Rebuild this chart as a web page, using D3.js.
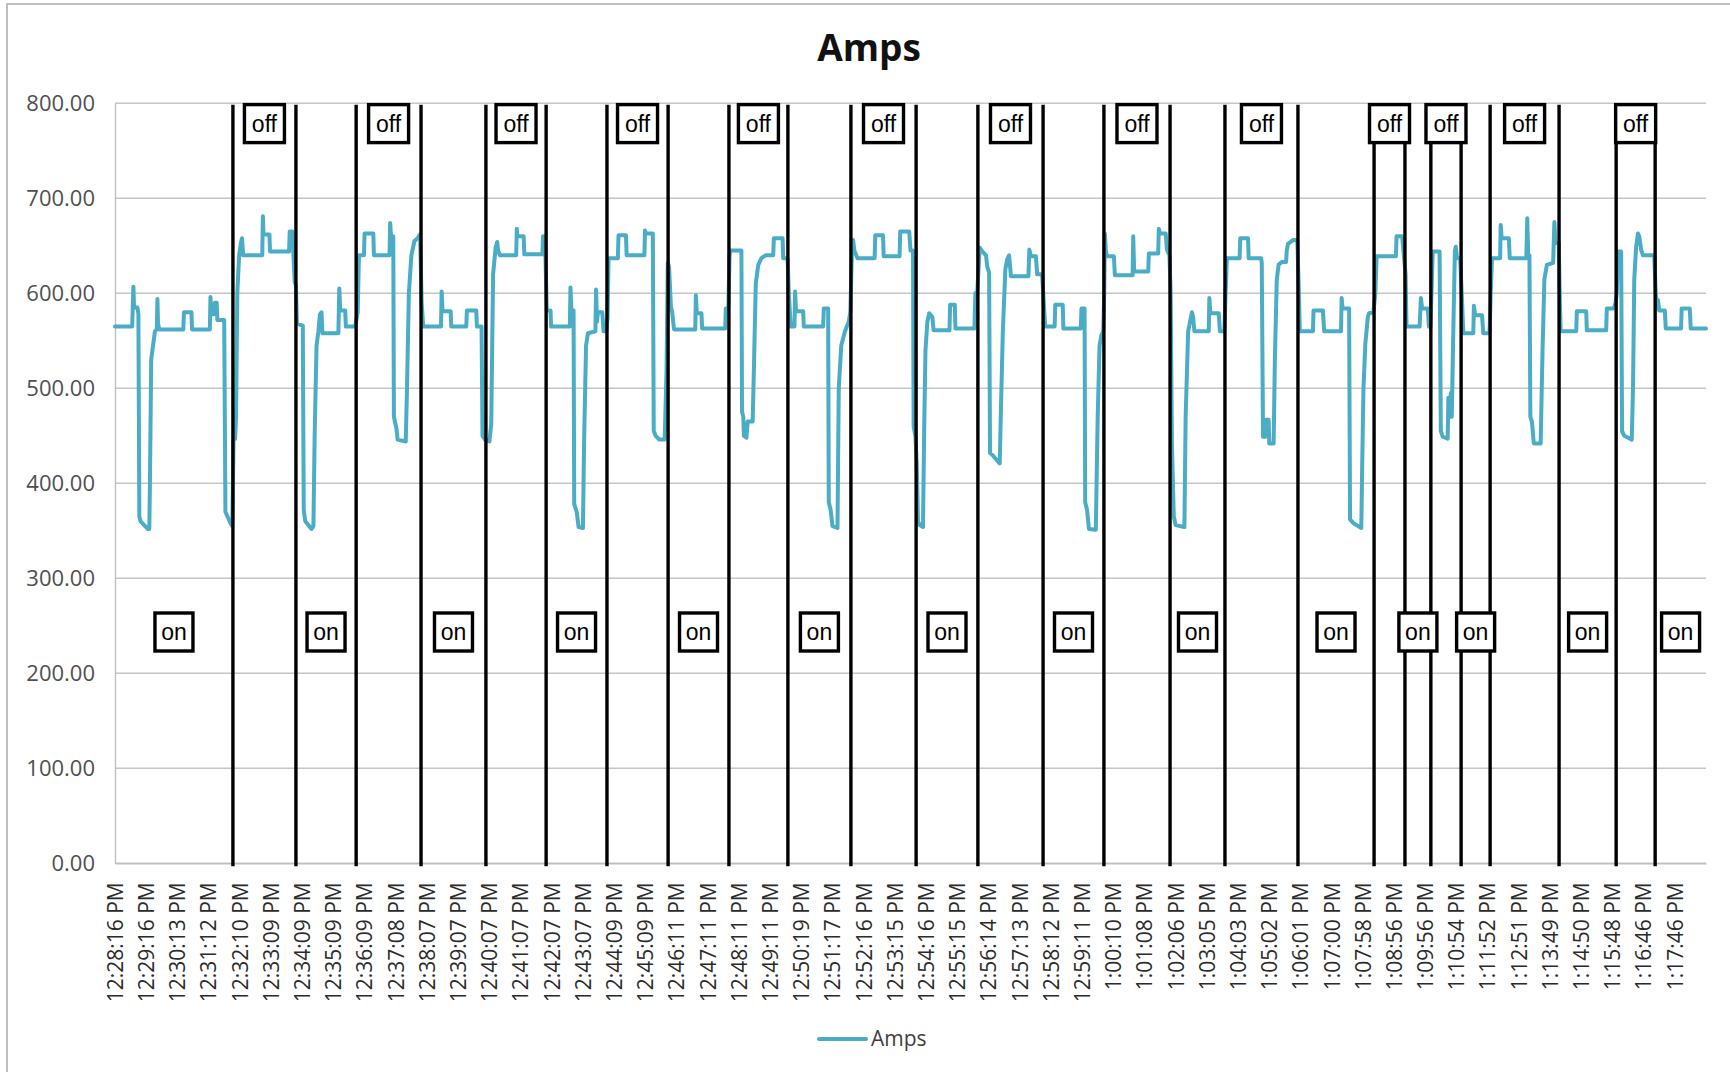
<!DOCTYPE html>
<html>
<head>
<meta charset="utf-8">
<title>Amps</title>
<script src="https://cdn.jsdelivr.net/npm/d3@7"></script>
<style>
  html, body { margin: 0; padding: 0; background: #fff; }
  svg { display: block; }
</style>
</head>
<body>
<svg id="chart" width="1730" height="1072"></svg>
<script>
// Category labels along the time axis (one per sampled minute)
const timeLabels = [
  "12:28:16 PM","12:29:16 PM","12:30:13 PM","12:31:12 PM","12:32:10 PM","12:33:09 PM",
  "12:34:09 PM","12:35:09 PM","12:36:09 PM","12:37:08 PM","12:38:07 PM","12:39:07 PM",
  "12:40:07 PM","12:41:07 PM","12:42:07 PM","12:43:07 PM","12:44:09 PM","12:45:09 PM",
  "12:46:11 PM","12:47:11 PM","12:48:11 PM","12:49:11 PM","12:50:19 PM","12:51:17 PM",
  "12:52:16 PM","12:53:15 PM","12:54:16 PM","12:55:15 PM","12:56:14 PM","12:57:13 PM",
  "12:58:12 PM","12:59:11 PM","1:00:10 PM","1:01:08 PM","1:02:06 PM","1:03:05 PM",
  "1:04:03 PM","1:05:02 PM","1:06:01 PM","1:07:00 PM","1:07:58 PM","1:08:56 PM",
  "1:09:56 PM","1:10:54 PM","1:11:52 PM","1:12:51 PM","1:13:49 PM","1:14:50 PM",
  "1:15:48 PM","1:16:46 PM","1:17:46 PM"
];

const yTicks = [0, 100, 200, 300, 400, 500, 600, 700, 800];

// Current trace: [position in label steps, amps]
const ampsTrace = [
  [0,565],[0.55,565],[0.57,585],[0.59,607],[0.61,585],[0.72,585],[0.75,578],[0.78,365],[0.82,360],[1.05,352],[1.10,352],[1.12,400],[1.16,530],[1.22,545],[1.28,560],[1.34,562],[1.36,594],[1.38,568],[1.42,562],[2.19,562],[2.21,580],[2.45,580],[2.47,562],[3.04,562],[3.06,596],[3.09,578],[3.18,578],[3.20,590],[3.26,590],[3.28,572],[3.50,572],[3.54,370],[3.70,358],[3.76,355],
  [3.80,445],[3.85,447],[3.88,470],[3.92,600],[3.98,640],[4.03,652],[4.07,658],[4.11,640],[4.72,640],[4.74,681],[4.76,662],[4.95,662],[4.97,644],[5.58,644],[5.60,665],[5.69,665],[5.72,640],[5.76,612],[5.80,608],
  [5.83,568],[6.02,566],[6.05,372],[6.10,360],[6.30,352],[6.36,355],[6.40,450],[6.46,545],[6.52,560],[6.57,578],[6.62,580],[6.65,558],[7.16,558],[7.19,605],[7.22,582],[7.38,582],[7.40,565],[7.70,565],
  [7.78,580],[7.82,640],[7.98,640],[8.00,663],[8.28,663],[8.30,640],[8.80,640],[8.82,674],[8.85,660],[8.92,660],[8.94,470],[9.02,458],[9.06,446],[9.32,444],[9.36,500],[9.42,600],[9.50,640],[9.60,655],[9.70,658],[9.78,662],
  [9.83,590],[9.88,565],[10.45,565],[10.47,602],[10.50,581],[10.76,581],[10.78,565],[11.26,565],[11.28,582],[11.58,582],[11.60,565],[11.75,565],[11.78,450],[11.86,446],
  [12.00,444],[12.06,462],[12.12,620],[12.20,648],[12.25,654],[12.28,645],[12.34,640],[12.86,640],[12.88,668],[12.90,660],[13.10,660],[13.12,641],[13.70,641],[13.72,660],[13.78,660],[13.80,637],
  [13.84,582],[13.96,582],[13.98,565],[14.58,565],[14.60,606],[14.63,582],[14.70,582],[14.72,378],[14.80,370],[14.86,354],[15.00,353],[15.04,450],[15.10,545],[15.16,558],[15.40,560],[15.42,604],[15.45,570],[15.48,580],[15.62,580],[15.66,560],[15.75,560],
  [15.79,575],[15.82,637],[16.12,637],[16.14,661],[16.38,661],[16.40,640],[16.97,640],[16.99,666],[17.02,663],[17.24,663],[17.27,455],[17.33,450],[17.45,446],[17.62,446],[17.68,520],[17.72,632],
  [17.76,628],[17.82,586],[17.86,580],[17.92,562],[18.60,562],[18.62,598],[18.65,579],[18.80,579],[18.82,563],[19.56,563],[19.58,584],[19.66,584],
  [19.70,640],[19.73,645],[20.08,645],[20.10,475],[20.14,470],[20.16,450],[20.24,448],[20.28,465],[20.44,465],[20.48,520],[20.54,610],[20.62,630],[20.72,637],[20.86,640],[21.10,640],[21.12,658],[21.40,658],[21.42,637],[21.56,637],
  [21.60,600],[21.66,565],[21.78,565],[21.80,602],[21.83,581],[22.06,581],[22.08,565],[22.70,565],[22.72,584],[22.86,584],[22.88,380],[22.94,372],[23.00,355],[23.16,353],[23.20,500],[23.28,545],[23.40,560],[23.52,570],[23.57,580],
  [23.62,640],[23.66,656],[23.70,645],[23.80,637],[24.35,637],[24.37,661],[24.62,661],[24.64,639],[25.15,639],[25.17,665],[25.46,665],[25.50,645],[25.58,645],[25.60,460],[25.66,449],
  [25.70,420],[25.74,360],[25.80,356],[25.90,354],[25.94,460],[25.98,540],[26.04,570],[26.10,579],[26.20,575],[26.24,561],[26.75,561],[26.77,588],[26.92,588],[26.94,563],[27.55,563],[27.58,600],[27.64,602],
  [27.68,625],[27.72,648],[27.78,645],[27.92,640],[27.96,628],[28.02,622],[28.05,432],[28.12,430],[28.36,421],[28.40,480],[28.46,560],[28.54,625],[28.60,636],[28.66,640],[28.72,618],[29.28,618],[29.31,646],[29.36,639],[29.52,639],[29.56,620],[29.72,620],
  [29.78,585],[29.82,565],[30.12,565],[30.14,588],[30.38,588],[30.40,563],[30.96,563],[30.98,584],[31.08,584],[31.10,380],[31.16,372],[31.22,352],[31.44,351],[31.50,470],[31.56,545],[31.62,556],[31.68,560],
  [31.71,600],[31.73,663],[31.76,645],[31.80,639],[32.02,639],[32.05,619],[32.62,619],[32.64,660],[32.67,623],[33.12,623],[33.14,642],[33.44,642],[33.46,668],[33.50,663],[33.68,663],[33.72,646],[33.80,640],
  [33.84,600],[33.88,440],[33.94,365],[34.00,356],[34.28,354],[34.32,470],[34.40,560],[34.46,570],[34.52,580],[34.56,575],[34.60,560],[35.06,560],[35.08,595],[35.11,579],[35.38,579],[35.42,560],[35.56,560],
  [35.60,600],[35.64,637],[36.05,637],[36.07,658],[36.32,658],[36.34,637],[36.74,637],[36.76,632],[36.80,449],[36.88,449],[36.90,467],[36.98,467],[37.00,442],[37.14,442],[37.18,530],[37.24,614],[37.30,630],[37.40,633],[37.54,633],[37.56,645],[37.60,652],[37.76,656],[37.90,656],
  [37.95,600],[37.98,560],[38.40,560],[38.42,582],[38.72,582],[38.76,560],[39.30,560],[39.32,595],[39.35,584],[39.56,584],[39.59,362],[39.70,358],[39.95,353],[39.98,420],[40.02,500],[40.08,547],[40.16,575],[40.20,579],[40.34,580],
  [40.40,600],[40.44,639],[41.06,639],[41.08,660],[41.26,660],[41.30,645],
  [41.37,620],[41.40,565],[41.82,565],[41.86,595],[41.90,584],[42.08,584],[42.12,565],[42.17,565],
  [42.20,600],[42.24,644],[42.46,644],[42.50,455],[42.56,449],[42.72,447],[42.74,490],[42.78,470],[42.82,495],[42.85,470],[42.90,560],[42.95,644],[42.98,649],[43.02,637],[43.12,637],
  [43.17,600],[43.22,558],[43.54,558],[43.56,587],[43.60,577],[43.82,577],[43.86,558],[44.06,558],
  [44.10,600],[44.14,637],[44.40,637],[44.42,672],[44.45,658],[44.68,658],[44.71,637],[45.24,637],[45.27,679],[45.30,640],[45.34,640],[45.37,470],[45.42,465],[45.48,442],[45.70,442],[45.76,540],[45.82,615],[45.90,630],[46.10,632],[46.14,675],[46.17,653],[46.28,653],
  [46.31,600],[46.34,560],[46.84,560],[46.86,581],[47.16,581],[47.18,561],[47.80,561],[47.82,584],[48.04,584],[48.10,590],
  [48.14,600],[48.18,644],[48.28,644],[48.31,455],[48.38,450],[48.62,446],[48.66,500],[48.70,614],[48.76,649],[48.82,663],[48.86,660],[48.92,646],[48.98,640],[49.34,640],
  [49.39,600],[49.42,586],[49.46,593],[49.50,582],[49.68,582],[49.71,563],[50.20,563],[50.22,584],[50.48,584],[50.51,563],[51.00,563]
];

// Moments the load switched, in label steps
const switchPositions = [
  3.78, 5.80, 7.73, 9.81, 11.89, 13.82, 15.77, 17.73, 19.68, 21.57, 23.59, 25.68, 27.66,
  29.75, 31.70, 33.82, 35.58, 37.92, 40.36, 41.35, 42.18, 43.15, 44.08, 46.29, 48.12, 49.37
];
// State of each span between switches, first span first
const switchStates = [
  "on","off","on","off","on","off","on","off","on","off","on","off","on","off",
  "on","off","on","off","on","off","on","off","on","off","on","off","on"
];

const W = 1730, H = 1072;
const plot = { left: 115, right: 1706, top: 103.3, bottom: 863.3 };
const lineColor = "#4bacc6";
const axisFont = "'Open Sans', 'Noto Sans', sans-serif";

const svg = d3.select("#chart");

// chart area frame
svg.append("rect")
  .attr("x", 7).attr("y", 4)
  .attr("width", W + 20).attr("height", H + 20)
  .attr("fill", "#fff")
  .attr("stroke", "#bfbfbf").attr("stroke-width", 2);

const x = d3.scaleLinear().domain([0, timeLabels.length]).range([plot.left, plot.right]);
const y = d3.scaleLinear().domain([0, 800]).range([plot.bottom, plot.top]);

// horizontal gridlines
svg.append("g")
  .selectAll("line")
  .data(yTicks)
  .join("line")
  .attr("x1", plot.left).attr("x2", plot.right)
  .attr("y1", d => y(d)).attr("y2", d => y(d))
  .attr("stroke", "#c6c6c6").attr("stroke-width", 1.4);

// y axis
const yAxis = d3.axisLeft(y).tickValues(yTicks).tickFormat(d3.format(".2f")).tickSize(0).tickPadding(20);
const yg = svg.append("g").attr("transform", `translate(${plot.left},0)`).call(yAxis);
yg.select(".domain").attr("stroke", "#bfbfbf").attr("stroke-width", 1.4);
yg.selectAll("text")
  .attr("font-family", axisFont).attr("font-size", 22).attr("fill", "#505050");

// x axis (labels rotated to read bottom-up)
const xAxis = d3.axisBottom(x).tickValues(d3.range(timeLabels.length)).tickFormat(i => timeLabels[i]).tickSize(0);
const xg = svg.append("g").attr("transform", `translate(0,${plot.bottom})`).call(xAxis);
xg.select(".domain").attr("stroke", "#bfbfbf").attr("stroke-width", 1.4);
xg.selectAll("text")
  .attr("font-family", axisFont).attr("font-size", 21).attr("fill", "#2b2b2b")
  .attr("text-anchor", "end")
  .attr("dy", "0.35em")
  .attr("transform", "translate(0,19) rotate(-90)")
  .attr("y", 0).attr("x", 0);

// current trace
const line = d3.line().x(d => x(d[0])).y(d => y(d[1]));
svg.append("path")
  .datum(ampsTrace)
  .attr("d", line)
  .attr("fill", "none")
  .attr("stroke", lineColor)
  .attr("stroke-width", 4)
  .attr("stroke-linejoin", "round")
  .attr("stroke-linecap", "round");

// switch markers
svg.append("g")
  .selectAll("line")
  .data(switchPositions)
  .join("line")
  .attr("x1", d => x(d)).attr("x2", d => x(d))
  .attr("y1", y(800) + 1.5).attr("y2", y(0) + 3)
  .attr("stroke", "#000").attr("stroke-width", 3.4);

// on/off tags centred in each span
const bounds = [0, ...switchPositions, timeLabels.length];
const spans = switchStates.map((s, i) => ({ state: s, mid: (bounds[i] + bounds[i + 1]) / 2 }));
const tags = svg.append("g")
  .selectAll("g")
  .data(spans)
  .join("g")
  .attr("transform", d => `translate(${x(d.mid)},${d.state === "off" ? 123.6 : 632})`);
tags.append("rect")
  .attr("x", d => d.state === "off" ? -20 : -19)
  .attr("y", -19)
  .attr("width", d => d.state === "off" ? 40 : 38)
  .attr("height", 38)
  .attr("fill", "#fff").attr("stroke", "#000").attr("stroke-width", 3.4);
tags.append("text")
  .text(d => d.state)
  .attr("text-anchor", "middle")
  .attr("dy", "0.35em")
  .attr("font-family", "'Liberation Sans', Arial, sans-serif")
  .attr("font-size", 23)
  .attr("fill", "#000");

// title
svg.append("text")
  .attr("x", 869).attr("y", 61)
  .attr("text-anchor", "middle")
  .attr("font-family", axisFont).attr("font-weight", "bold").attr("font-size", 37)
  .attr("fill", "#111")
  .text("Amps");

// legend
const legend = svg.append("g").attr("transform", "translate(819,1039)");
legend.append("line")
  .attr("x1", 0).attr("x2", 47).attr("y1", 0).attr("y2", 0)
  .attr("stroke", lineColor).attr("stroke-width", 4).attr("stroke-linecap", "round");
legend.append("text")
  .attr("x", 52).attr("y", 0).attr("dy", "0.35em")
  .attr("font-family", axisFont).attr("font-size", 21).attr("fill", "#404040")
  .text("Amps");
</script>
</body>
</html>
